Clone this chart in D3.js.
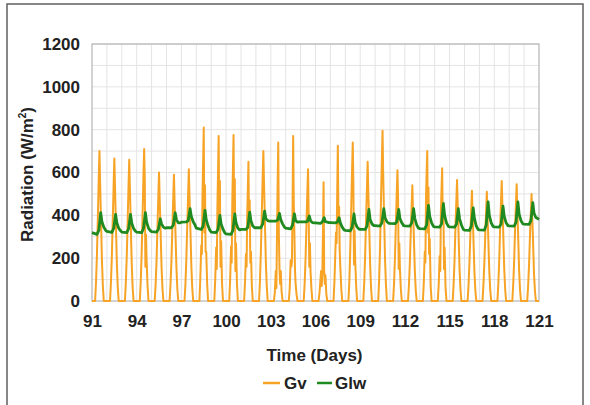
<!DOCTYPE html>
<html>
<head>
<meta charset="utf-8">
<script src="https://cdn.jsdelivr.net/npm/d3@7"></script>
<style>
  html, body { margin: 0; padding: 0; background: #fff; }
  svg { display: block; font-family: "Liberation Sans", Arial, sans-serif; }
</style>
</head>
<body>
<svg id="chart" width="590" height="405"></svg>
<script>
// ---- data ----
const days = d3.range(91, 121); // 91..120 (day starts)
const xTicks = [91, 94, 97, 100, 103, 106, 109, 112, 115, 118, 121];
const yTicks = [0, 200, 400, 600, 800, 1000, 1200];

// Gv sampled at these hours of each day (night = 0)
const gvHours = [5, 6.5, 8, 9, 10, 11, 12, 13, 14, 15, 16, 17.5, 19];
const gv = [
  [0, 90, 220, 340, 460, 590, 700, 560, 440, 320, 190, 70, 0],   // 91
  [0, 85, 210, 330, 440, 560, 665, 540, 420, 300, 180, 65, 0],   // 92
  [0, 85, 210, 320, 440, 555, 660, 530, 420, 290, 175, 60, 0],   // 93
  [0, 90, 225, 345, 470, 600, 710, 570, 160, 310, 190, 70, 0],   // 94
  [0, 80, 190, 300, 400, 505, 600, 480, 380, 270, 160, 60, 0],   // 95
  [0, 80, 190, 295, 395, 495, 590, 470, 370, 260, 155, 55, 0],   // 96
  [0, 80, 200, 310, 410, 515, 615, 490, 390, 280, 165, 60, 0],   // 97
  [0, 110, 260, 220, 500, 650, 810, 320, 540, 230, 230, 80, 0],  // 98
  [0, 100, 250, 150, 440, 600, 770, 390, 560, 160, 280, 80, 0],  // 99
  [0, 100, 255, 180, 470, 620, 775, 410, 570, 140, 270, 80, 0],  // 100
  [0, 90, 220, 160, 400, 520, 650, 340, 470, 180, 230, 70, 0],   // 101
  [0, 90, 230, 350, 470, 590, 700, 560, 440, 310, 185, 70, 0],   // 102
  [0, 40, 140, 60, 320, 550, 740, 310, 150, 80, 140, 40, 0],     // 103
  [0, 60, 190, 160, 180, 420, 770, 460, 320, 140, 80, 30, 0],    // 104
  [0, 80, 200, 310, 420, 520, 615, 410, 160, 270, 140, 55, 0],   // 105
  [0, 40, 100, 140, 70, 130, 310, 555, 140, 80, 120, 30, 0],     // 106
  [0, 90, 230, 320, 270, 510, 725, 360, 440, 230, 160, 60, 0],   // 107
  [0, 90, 240, 370, 500, 620, 740, 560, 170, 330, 185, 70, 0],   // 108
  [0, 85, 215, 330, 440, 545, 650, 520, 410, 290, 170, 60, 0],   // 109
  [0, 100, 250, 400, 540, 670, 795, 600, 460, 330, 195, 75, 0],  // 110
  [0, 80, 205, 310, 420, 515, 610, 480, 150, 270, 150, 55, 0],   // 111
  [0, 75, 180, 280, 370, 455, 540, 430, 340, 240, 140, 50, 0],   // 112
  [0, 90, 230, 180, 480, 600, 700, 320, 530, 220, 290, 70, 0],   // 113
  [0, 80, 210, 140, 420, 520, 620, 370, 460, 150, 250, 60, 0],   // 114
  [0, 80, 195, 300, 395, 480, 565, 450, 360, 255, 150, 55, 0],   // 115
  [0, 75, 180, 270, 360, 440, 515, 410, 330, 230, 135, 50, 0],   // 116
  [0, 75, 180, 270, 360, 435, 510, 410, 325, 225, 135, 50, 0],   // 117
  [0, 80, 195, 300, 395, 480, 560, 450, 360, 255, 150, 55, 0],   // 118
  [0, 78, 190, 290, 385, 465, 545, 440, 350, 245, 140, 50, 0],   // 119
  [0, 70, 170, 260, 350, 425, 500, 400, 320, 220, 125, 45, 0]    // 120
];

// Glw sampled at these hours of each day
const glwHours = [0, 8, 11, 14, 16, 19, 22];
const glw = [
  [319, 311, 330, 412, 370, 345, 330], // 91
  [325, 320, 340, 404, 365, 340, 328], // 92
  [322, 319, 338, 404, 365, 338, 326], // 93
  [322, 319, 340, 412, 368, 340, 328], // 94
  [324, 322, 335, 384, 360, 345, 340], // 95
  [342, 342, 355, 412, 380, 365, 365], // 96
  [368, 369, 375, 431, 395, 370, 355], // 97
  [340, 334, 350, 423, 380, 350, 330], // 98
  [322, 319, 335, 400, 360, 335, 318], // 99
  [313, 311, 330, 407, 365, 340, 332], // 100
  [334, 334, 345, 415, 375, 350, 342], // 101
  [342, 342, 360, 420, 385, 375, 373], // 102
  [373, 373, 378, 409, 380, 360, 345], // 103
  [340, 337, 355, 407, 375, 368, 369], // 104
  [369, 369, 372, 397, 375, 366, 365], // 105
  [365, 362, 370, 389, 370, 368, 366], // 106
  [366, 365, 368, 389, 365, 345, 332], // 107
  [330, 327, 345, 407, 365, 345, 336], // 108
  [335, 334, 350, 428, 380, 360, 352], // 109
  [352, 350, 365, 431, 390, 370, 363], // 110
  [362, 361, 370, 428, 385, 365, 352], // 111
  [351, 350, 365, 431, 385, 355, 340], // 112
  [338, 337, 355, 446, 395, 365, 348], // 113
  [346, 345, 360, 454, 400, 365, 348], // 114
  [346, 345, 358, 431, 385, 355, 335], // 115
  [331, 330, 350, 435, 385, 350, 334], // 116
  [332, 331, 355, 463, 400, 365, 348], // 117
  [346, 345, 360, 443, 395, 365, 352], // 118
  [351, 350, 368, 463, 405, 375, 360], // 119
  [359, 358, 375, 459, 410, 390, 385]  // 120
];
const glwEnd = 381; // value at day 121.0

const seriesNames = ["Gv", "Glw"];
const seriesColors = ["#f7a325", "#1f8a1f"];

// ---- build point lists ----
const gvPts = [[91, 0]];
days.forEach((d, i) => gvHours.forEach((h, j) => gvPts.push([d + h / 24, gv[i][j]])));
gvPts.push([121, 0]);

const glwPts = [];
days.forEach((d, i) => glwHours.forEach((h, j) => glwPts.push([d + h / 24, glw[i][j]])));
glwPts.push([121, glwEnd]);

// ---- layout ----
const svg = d3.select("#chart");
const L = 92, R = 539, T = 44, B = 301;
const x = d3.scaleLinear().domain([91, 121]).range([L, R]);
const y = d3.scaleLinear().domain([0, 1200]).range([B, T]);

// outer frame
svg.append("rect").attr("x", 7).attr("y", 4).attr("width", 576).attr("height", 410)
  .attr("fill", "none").attr("stroke", "#606060").attr("stroke-width", 1.5);

// gridlines
const g = svg.append("g");
g.selectAll("line.hg").data(d3.range(100, 1201, 100)).join("line")
  .attr("x1", L).attr("x2", R).attr("y1", d => y(d)).attr("y2", d => y(d))
  .attr("stroke", "#e4e4e4").attr("stroke-width", 1);
g.selectAll("line.vg").data(d3.range(92, 121)).join("line")
  .attr("y1", T).attr("y2", B).attr("x1", d => x(d)).attr("x2", d => x(d))
  .attr("stroke", "#e4e4e4").attr("stroke-width", 1);

// plot border
svg.append("rect").attr("x", L).attr("y", T).attr("width", R - L).attr("height", B - T)
  .attr("fill", "none").attr("stroke", "#b5b5b5").attr("stroke-width", 1.2);

// lines
const line = d3.line().x(d => x(d[0])).y(d => y(d[1]));
svg.append("path").datum(gvPts).attr("d", line)
  .attr("fill", "none").attr("stroke", seriesColors[0]).attr("stroke-width", 2)
  .attr("stroke-linejoin", "round");
svg.append("path").datum(glwPts).attr("d", line)
  .attr("fill", "none").attr("stroke", seriesColors[1]).attr("stroke-width", 2.8)
  .attr("stroke-linejoin", "round");

// axes (labels only)
const yAxis = d3.axisLeft(y).tickValues(yTicks).tickFormat(d3.format("d")).tickSize(0).tickPadding(12);
const yg = svg.append("g").attr("transform", `translate(${L},0)`).call(yAxis);
const xAxis = d3.axisBottom(x).tickValues(xTicks).tickFormat(d3.format("d")).tickSize(0).tickPadding(14);
const xg = svg.append("g").attr("transform", `translate(0,${B})`).call(xAxis);
[yg, xg].forEach(a => {
  a.select(".domain").remove();
  a.selectAll("text").attr("font-size", 17).attr("font-weight", "bold")
    .attr("fill", "#222").attr("font-family", "'Liberation Sans', Arial, sans-serif");
});

// axis titles
svg.append("text").attr("x", (L + R) / 2 - 1).attr("y", 361).attr("text-anchor", "middle")
  .attr("font-size", 17).attr("font-weight", "bold").attr("fill", "#222")
  .text("Time (Days)");
const yt = svg.append("text").attr("transform", `translate(33,${(T + B) / 2 + 2}) rotate(-90)`)
  .attr("text-anchor", "middle").attr("font-size", 17).attr("font-weight", "bold").attr("fill", "#222");
yt.append("tspan").text("Radiation (W/m");
yt.append("tspan").attr("font-size", 10).attr("dy", -7).text("2");
yt.append("tspan").attr("dy", 7).text(")");

// legend
const leg = [
  { x1: 263, x2: 280, tx: 284 },
  { x1: 317, x2: 332, tx: 335 }
];
leg.forEach((l, i) => {
  svg.append("line").attr("x1", l.x1).attr("x2", l.x2).attr("y1", 383).attr("y2", 383)
    .attr("stroke", seriesColors[i]).attr("stroke-width", 2.5);
  svg.append("text").attr("x", l.tx).attr("y", 389).attr("font-size", 17)
    .attr("font-weight", "bold").attr("fill", "#222").text(seriesNames[i]);
});
</script>
</body>
</html>
